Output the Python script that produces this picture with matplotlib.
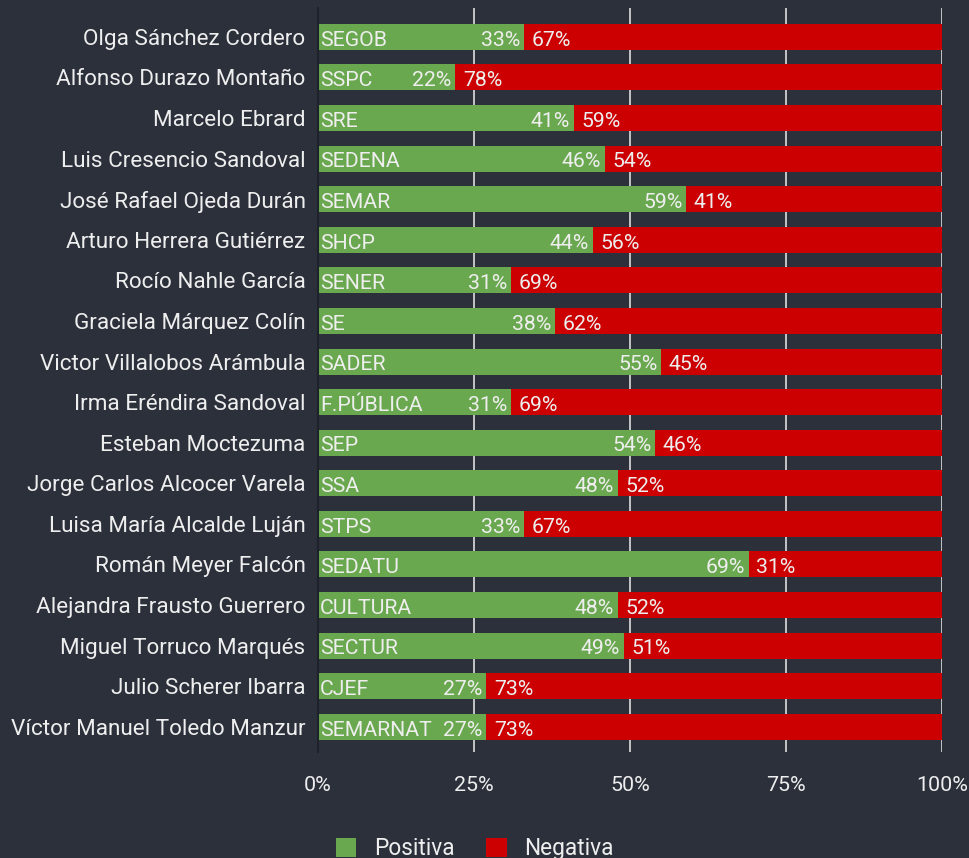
import matplotlib.pyplot as plt

plt.rcParams['font.family'] = ['Roboto', 'DejaVu Sans']

names = ["Olga Sánchez Cordero", "Alfonso Durazo Montaño", "Marcelo Ebrard",
         "Luis Cresencio Sandoval", "José Rafael Ojeda Durán", "Arturo Herrera Gutiérrez",
         "Rocío Nahle García", "Graciela Márquez Colín", "Victor Villalobos Arámbula",
         "Irma Eréndira Sandoval", "Esteban Moctezuma", "Jorge Carlos Alcocer Varela",
         "Luisa María Alcalde Luján", "Román Meyer Falcón", "Alejandra Frausto Guerrero",
         "Miguel Torruco Marqués", "Julio Scherer Ibarra", "Víctor Manuel Toledo Manzur"]
depts = ["SEGOB", "SSPC", "SRE", "SEDENA", "SEMAR", "SHCP", "SENER", "SE", "SADER",
         "F.PÚBLICA", "SEP", "SSA", "STPS", "SEDATU", "CULTURA", "SECTUR", "CJEF", "SEMARNAT"]
positiva = [33, 22, 41, 46, 59, 44, 31, 38, 55, 31, 54, 48, 33, 69, 48, 49, 27, 27]
negativa = [67, 78, 59, 54, 41, 56, 69, 62, 45, 69, 46, 52, 67, 31, 52, 51, 73, 73]
xticks = [0, 25, 50, 75, 100]

bg = '#2b303b'
green = '#6aa84f'
red = '#cc0000'
txt = '#eeeeee'

fig = plt.figure(figsize=(9.69, 8.58), dpi=100, facecolor=bg)
ax = fig.add_axes([318 / 969, 1 - 752 / 858, 624 / 969, 744 / 858], facecolor=bg)

ys = list(range(len(names)))
ax.barh(ys, positiva, height=0.64, color=green, label='Positiva', zorder=2)
ax.barh(ys, negativa, left=positiva, height=0.64, color=red, label='Negativa', zorder=2)

for y, d, p, n in zip(ys, depts, positiva, negativa):
    ax.text(0.3, y + 0.08, d, color=txt, fontsize=15.3, va='center', ha='left', zorder=3)
    ax.text(p - 0.6, y + 0.08, f"{p}%", color=txt, fontsize=15.3, va='center', ha='right', zorder=3)
    ax.text(p + 1.2, y + 0.08, f"{n}%", color=txt, fontsize=15.3, va='center', ha='left', zorder=3)

ax.set_xlim(0, 100)
ax.set_ylim(17.62, -0.71)
ax.set_yticks(ys)
ax.set_yticklabels(names, color=txt, fontsize=16.2)
ax.set_xticks(xticks)
ax.set_xticklabels([f"{t}%" for t in xticks], color=txt, fontsize=15.4)
ax.tick_params(axis='both', length=0)
ax.tick_params(axis='y', pad=9)
ax.tick_params(axis='x', pad=17)
ax.xaxis.grid(True, color='#dddddd', linewidth=1.2, zorder=0)
ax.set_axisbelow(True)
for s in ['top', 'right', 'bottom']:
    ax.spines[s].set_visible(False)
ax.spines['left'].set_color('#1e222a')
ax.spines['left'].set_linewidth(1.5)

leg = fig.legend(loc='lower center', bbox_to_anchor=(0.49, -0.026), ncol=2, frameon=False,
                 fontsize=16.3, handlelength=0.9, handleheight=0.9, columnspacing=1.4,
                 handletextpad=0.78)
for t in leg.get_texts():
    t.set_color(txt)

fig.savefig('out.png', dpi=100, facecolor=bg)
